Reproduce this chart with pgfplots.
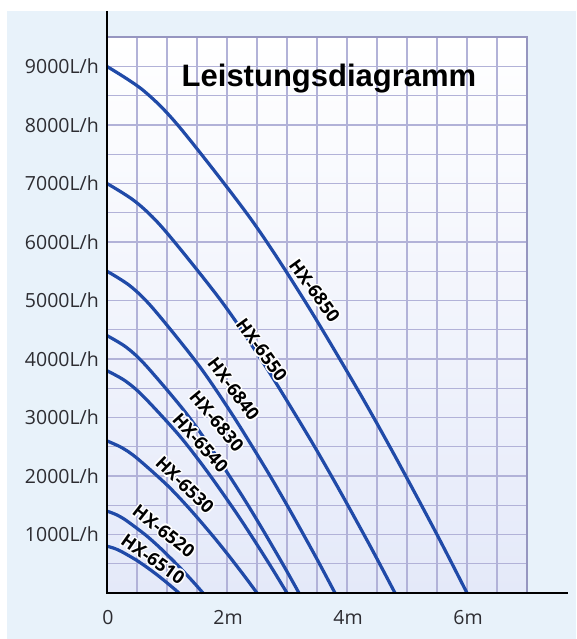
\documentclass[border=0pt]{standalone}
\usepackage{pgfplots}
\pgfplotsset{compat=1.18}
\usepackage{fontspec}
\setmainfont{Open Sans}
\newfontfamily\titlefont{Liberation Sans}
\usepackage{contour}
\contourlength{1.4pt}
\contournumber{16}
\definecolor{bgblue}{RGB}{232,242,250}
\definecolor{gridc}{RGB}{178,178,216}
\definecolor{framec}{RGB}{150,150,192}
\definecolor{curvec}{RGB}{32,74,168}
\definecolor{tickc}{RGB}{45,45,50}
\definecolor{plotlow}{RGB}{228,233,249}
\begin{document}
\begin{tikzpicture}[x=1pt,y=1pt]
\useasboundingbox (0,0) rectangle (576,639);
\fill[white] (0,0) rectangle (576,639);
\fill[bgblue] (7,0) rectangle (576,628);
\begin{axis}[
  at={(107pt,46pt)}, anchor=south west,
  scale only axis, width=420pt, height=555.75pt,
  xmin=0, xmax=7, ymin=0, ymax=9500,
  clip=false,
  axis line style={draw=none},
  axis background/.style={top color=white, bottom color=plotlow},
  xtick={0,2,4,6}, xticklabels={0,2m,4m,6m},
  minor xtick={0,0.5,...,7},
  ytick={1000,2000,3000,4000,5000,6000,7000,8000,9000},
  yticklabels={1000L/h,2000L/h,3000L/h,4000L/h,5000L/h,6000L/h,7000L/h,8000L/h,9000L/h},
  minor ytick={0,500,...,9500},
  scaled x ticks=false, scaled y ticks=false,
  grid=both,
  major grid style={gridc, line width=1.3pt},
  minor grid style={gridc, line width=1.3pt},
  tick style={draw=none},
  major tick length=0pt, minor tick length=0pt,
  ticklabel style={font=\fontsize{19.5}{22}\selectfont, text=tickc},
  yticklabel style={anchor=east, inner sep=0pt, xshift=-8pt},
  xticklabel style={anchor=north, inner sep=0pt, yshift=-17pt, xshift=1pt},
]
% frame top/right
\draw[framec, line width=2pt] (axis cs:0,9500) -- (axis cs:7,9500) -- (axis cs:7,0);

% HX-6850
\addplot[curvec, line width=3.2pt, smooth] coordinates {
 (0,9000) (0.6,8595) (1.2,7974) (2.4,6390) (3.3,4986) (4.2,3438) (4.8,2340) (5.4,1193) (5.7,602) (6.0,0)};
% HX-6550
\addplot[curvec, line width=3.2pt, smooth] coordinates {
 (0,7000) (0.48,6685) (0.96,6202) (1.92,4970) (2.64,3878) (3.36,2674) (3.84,1820) (4.32,928) (4.56,468) (4.8,0)};
% HX-6840
\addplot[curvec, line width=3.2pt, smooth] coordinates {
 (0,5500) (0.38,5253) (0.76,4873) (1.52,3905) (2.09,3047) (2.66,2101) (3.04,1430) (3.42,729) (3.61,368) (3.8,0)};
% HX-6830
\addplot[curvec, line width=3.2pt, smooth] coordinates {
 (0,4400) (0.32,4202) (0.64,3898) (1.28,3124) (1.76,2438) (2.24,1681) (2.56,1144) (2.88,583) (3.04,294) (3.2,0)};
% HX-6540
\addplot[curvec, line width=3.2pt, smooth] coordinates {
 (0,3800) (0.3,3629) (0.6,3367) (1.2,2698) (1.65,2105) (2.1,1452) (2.4,988) (2.7,504) (2.85,254) (3.0,0)};
% HX-6530
\addplot[curvec, line width=3.2pt, smooth] coordinates {
 (0,2600) (0.25,2483) (0.5,2304) (1.0,1846) (1.375,1440) (1.75,993) (2.0,676) (2.25,345) (2.375,174) (2.5,0)};
% HX-6520
\addplot[curvec, line width=3.2pt, smooth] coordinates {
 (0,1400) (0.16,1337) (0.32,1240) (0.64,994) (0.88,776) (1.12,535) (1.28,364) (1.44,186) (1.52,94) (1.6,0)};
% HX-6510
\addplot[curvec, line width=3.2pt, smooth] coordinates {
 (0,800) (0.12,764) (0.24,709) (0.48,568) (0.66,443) (0.84,306) (0.96,208) (1.08,106) (1.14,54) (1.2,0)};

% axes
\draw[black, line width=2.8pt] (axis cs:0,9950) -- (axis cs:0,0) -- (axis cs:7.68,0);

% curve labels
\tikzset{lbl/.style={font=\fontsize{18}{20}\selectfont\bfseries, text=black, inner sep=0pt}}
\node[lbl, rotate=-54] at (axis cs:3.45,5160) {\contour{white}{HX-6850}};
\node[lbl, rotate=-54] at (axis cs:2.57,4150) {\contour{white}{HX-6550}};
\node[lbl, rotate=-53] at (axis cs:2.10,3480) {\contour{white}{HX-6840}};
\node[lbl, rotate=-50] at (axis cs:1.82,2930) {\contour{white}{HX-6830}};
\node[lbl, rotate=-48] at (axis cs:1.55,2560) {\contour{white}{HX-6540}};
\node[lbl, rotate=-44] at (axis cs:1.29,1840) {\contour{white}{HX-6530}};
\node[lbl, rotate=-38] at (axis cs:0.94,1050) {\contour{white}{HX-6520}};
\node[lbl, rotate=-35] at (axis cs:0.76,570) {\contour{white}{HX-6510}};

% title
\node[font=\titlefont\bfseries\fontsize{31}{36}\selectfont, text=black, inner sep=0pt] at (axis cs:3.70,8800) {Leistungsdiagramm};
\end{axis}
\end{tikzpicture}
\end{document}
